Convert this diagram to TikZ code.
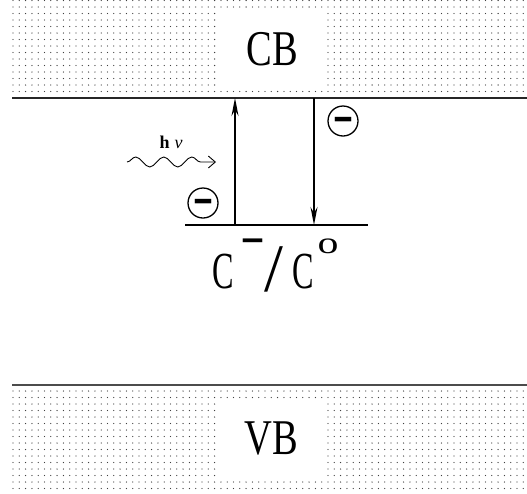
\documentclass[tikz,border=0pt]{standalone}
\usepackage{graphicx}
\usepackage{fontspec}
\setmainfont{Liberation Serif}
\usetikzlibrary{positioning,arrows.meta,decorations.pathmorphing}
\tikzset{
  dotc/.style={fill=black!75},
  bandlbl/.style={fill=white, minimum width=105pt, minimum height=78pt, inner sep=0pt, font=\fontsize{50}{50}\selectfont},
  edge/.style={line width=1.6pt, black!85},
  lvl/.style={line width=1.8pt},
  elec/.style={draw, circle, line width=1.3pt, minimum size=30pt, inner sep=0pt,
    font=\fontsize{32}{32}\selectfont\bfseries},
  trans/.style={-{Stealth[length=18pt,width=7pt,inset=6pt]}, line width=1.4pt},
  photon/.style={-{Straight Barb[length=7pt,width=12pt]}, line width=0.9pt,
    decorate, decoration={snake, amplitude=5pt, segment length=28pt, post length=4pt}}
}

\begin{document}
\begin{tikzpicture}[x=1pt, y=-1pt, node distance=4pt]
  \useasboundingbox (0,0) rectangle (527,493);
  % dotted bands
  \foreach \y in {0.5,7,...,92}
    \foreach \x in {13,19.3,...,527}
      \fill[dotc] (\x,\y) circle (0.65pt);
  \foreach \y in {391,397.5,...,489}
    \foreach \x in {13,19.3,...,527}
      \fill[dotc] (\x,\y) circle (0.65pt);
  \node[bandlbl] (cb) at (272.5,49) {\scalebox{0.77}[1]{CB}};
  \node[bandlbl] (vb) at (271.5,439) {\scalebox{0.77}[1]{VB}};
  % band edges and defect level
  \coordinate (cbl) at (12,98);
  \coordinate (cbr) at (527,98);
  \coordinate (vbl) at (12,385);
  \coordinate (vbr) at (527,385);
  \coordinate (lvll) at (185,225);
  \coordinate (lvlr) at (368,225);
  \draw[edge] (cbl) -- (cbr);
  \draw[edge, black!70, line width=2pt] (vbl) -- (vbr);
  \draw[lvl] (lvll) -- (lvlr);
  \coordinate (exc) at (235,225);
  \coordinate (exct) at (235,98);
  \coordinate (cap) at (314,98);
  \coordinate (capb) at (314,225);
  \draw[trans] (exc) -- (exct);
  \draw[trans] (cap) -- (capb);
  \node[anchor=base west, inner sep=0pt, font=\fontsize{52}{52}\selectfont] (defect) at (212,288)
    {\scalebox{0.62}[1]{C}\hspace{10pt}%
     \raisebox{30pt}{\fontsize{38}{38}\selectfont\scalebox{1}[2]{–}}\hspace{1.5pt}%
     \raisebox{-3pt}{\fontsize{68}{68}\selectfont /}\hspace{9pt}%
     \scalebox{0.62}[1]{C}\hspace{4pt}%
     \raisebox{35pt}{\fontsize{31}{31}\selectfont\scalebox{1.35}[1]{o}}};
  % photon
  \coordinate (phs) at (127,162);
  \coordinate (phe) at (216,162);
  \draw[photon] (phs) -- (phe);
  \node[font=\fontsize{18}{18}\selectfont] (hnu) at (171,142) {\textbf{h}\hspace{5pt}\textit{ν}};
  % electrons
  \node[elec] (e1) at (203,203) {\smash{\raisebox{-13pt}{\scalebox{1}[2]{–}}}};
  \node[elec] (e2) at (343,121) {\smash{\raisebox{-13pt}{\scalebox{1}[2]{–}}}};
\end{tikzpicture}
\end{document}
